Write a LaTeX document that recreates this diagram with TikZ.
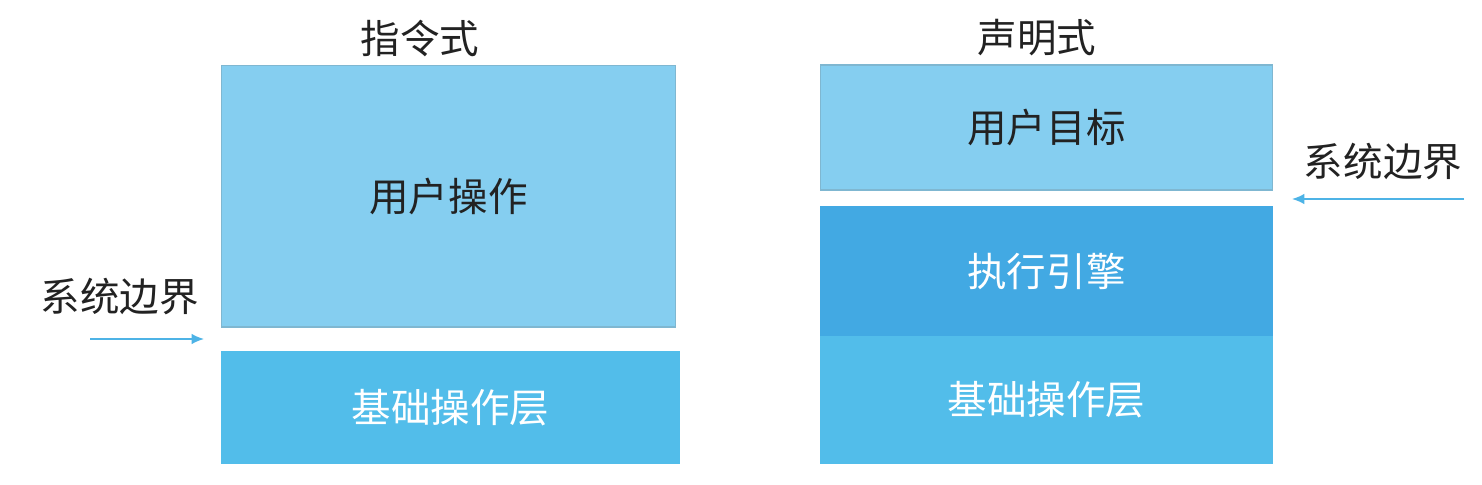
\documentclass[tikz,border=0pt]{standalone}
\usepackage{fontspec}
\setmainfont{Noto Sans CJK SC}
\usepackage{xcolor}
\usepackage{tikz}
\usetikzlibrary{arrows.meta}
\usetikzlibrary{positioning}

\definecolor{lightblue}{HTML}{85CEF0}
\definecolor{midblue}{HTML}{52BDEA}
\definecolor{deepblue}{HTML}{42A9E3}
\definecolor{arrowblue}{HTML}{4DB3E6}
\definecolor{darktext}{HTML}{222222}

\tikzset{
    layer/.style={rectangle, inner sep=0pt, minimum width=9.1cm, line width=0.6pt,
        font=\fontsize{22.5}{27}\selectfont},
    userbox/.style={layer, fill=lightblue, draw=lightblue!85!black!90!white, text=darktext},
    basebox/.style={layer, fill=midblue, draw=midblue, text=white},
    enginebox/.style={layer, fill=deepblue, draw=deepblue, text=white},
    heading/.style={font=\fontsize{22.5}{27}\selectfont, text=darktext},
    bound/.style={-{Latex[length=7pt,width=6pt]}, arrowblue, line width=1pt}
}

\begin{document}
\begin{tikzpicture}[x=0.02cm, y=-0.02cm]
                \useasboundingbox (0,0) rectangle (1482,484);
                % Imperative side
                \node[heading] (titleL) at (420,38) {指令式};
                \node[userbox, minimum width=9.1cm, minimum height=5.24cm] (opsL) at (448.5,196) {用户操作};
                \node[basebox, minimum width=9.18cm, minimum height=2.22cm] (baseL) at (450.5,407.5) {基础操作层};
                \node[heading] (bndL) at (120,297) {系统边界};
                \coordinate (fromL) at (90,339);
                \coordinate (toL) at (204,339);
                \draw[bound] (fromL) -- (toL);
                % Declarative side
                \node[heading] (titleR) at (1037,38) {声明式};
                \node[userbox, minimum width=9.06cm, minimum height=2.5cm] (goalR) at (1046.5,127.5) {用户目标};
                \node[enginebox, minimum width=9.06cm, minimum height=2.56cm] (engR) at (1046.5,271) {执行引擎};
                \node[basebox, minimum width=9.06cm, minimum height=2.54cm, below=0pt of engR] (baseR) {基础操作层};
                \node[heading] (bndR) at (1383,162) {系统边界};
                \coordinate (fromR) at (1464,199);
                \coordinate (toR) at (1292,199);
                \draw[bound] (fromR) -- (toR);
            \end{tikzpicture}
\end{document}
